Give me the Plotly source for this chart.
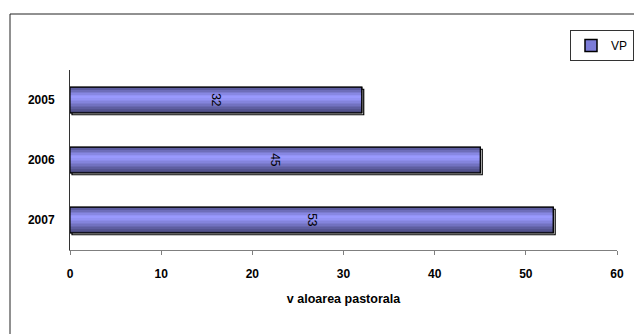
import plotly.graph_objects as go

# Data
years = ["2005", "2006", "2007"]
vp_values = [32, 45, 53]
series_name = "VP"
x_title = "v aloarea pastorala"
x_ticks = [0, 10, 20, 30, 40, 50, 60]

FONT = "Liberation Sans, Arial, sans-serif"
BAR_W = 0.425          # bar thickness in category units
PX_PER_CAT = 60.0      # plot height 180 px / 3 categories
PX_PER_UNIT = 547 / 60.0

fig = go.Figure()

# shadow behind each bar: offset a couple of pixels right and down
fig.add_trace(go.Bar(
    y=years, x=vp_values, orientation="h",
    base=2 / PX_PER_UNIT,
    width=BAR_W, offset=-BAR_W / 2 + 2 / PX_PER_CAT,
    marker=dict(color="white", line=dict(color="black", width=1.2)),
    showlegend=False, hoverinfo="skip",
))

# base bar (also provides the legend swatch)
fig.add_trace(go.Bar(
    y=years, x=vp_values, orientation="h", name=series_name,
    width=BAR_W, offset=-BAR_W / 2,
    marker=dict(color="#7c7cd8", line=dict(color="black", width=1.5)),
    showlegend=True,
))

# vertical shading: dark top, light band slightly above centre, dark bottom
def lerp(c1, c2, t):
    return "#%02x%02x%02x" % tuple(int(round(a + (b - a) * t)) for a, b in zip(c1, c2))

dark_top = (0x38, 0x38, 0x68)
light = (0x9a, 0x9a, 0xff)
dark_bot = (0x42, 0x42, 0x74)
n = 16
peak = 0.38
stripe = BAR_W / n
for i in range(n):
    t = (i + 0.5) / n
    if t < peak:
        col = lerp(dark_top, light, (t / peak) ** 0.7)
    else:
        col = lerp(light, dark_bot, ((t - peak) / (1 - peak)) ** 1.3)
    fig.add_trace(go.Bar(
        y=years, x=vp_values, orientation="h",
        width=stripe * 1.05, offset=-BAR_W / 2 + i * stripe,
        marker=dict(color=col, line=dict(width=0)),
        showlegend=False, hoverinfo="skip",
    ))

# outline and rotated value labels on top
fig.add_trace(go.Bar(
    y=years, x=vp_values, orientation="h",
    width=BAR_W, offset=-BAR_W / 2,
    marker=dict(color="rgba(0,0,0,0)", line=dict(color="black", width=1.2)),
    text=[str(v) for v in vp_values], textposition="inside",
    insidetextanchor="middle", textangle=90,
    textfont=dict(family=FONT, size=12, color="black"),
    showlegend=False, hoverinfo="skip",
))

fig.update_layout(
    width=634, height=334,
    margin=dict(l=70, r=17, t=70, b=84, autoexpand=False),
    paper_bgcolor="white", plot_bgcolor="white",
    barmode="overlay",
    font=dict(family=FONT, size=12, color="black"),
    legend=dict(
        xref="container", yref="container",
        x=636 / 634, y=1 - 30 / 334, xanchor="right", yanchor="top",
        bgcolor="white", bordercolor="#333333", borderwidth=1,
        font=dict(family=FONT, size=12, color="black"),
        itemwidth=30, tracegroupgap=0,
    ),
    xaxis=dict(
        range=[0, 60], tickvals=x_ticks, ticktext=[str(t) for t in x_ticks],
        showgrid=False, zeroline=False,
        showline=True, linecolor="#7f7f7f", linewidth=1,
        ticks="outside", ticklen=4, tickcolor="#7f7f7f",
        tickfont=dict(family=FONT, size=12, color="black", weight="bold"),
        ticklabelstandoff=9,
        title=dict(text=x_title, standoff=13,
                   font=dict(family=FONT, size=12.5, color="black", weight="bold")),
    ),
    yaxis=dict(
        categoryorder="array", categoryarray=years, autorange="reversed",
        showgrid=False, zeroline=False,
        showline=True, linecolor="#333333", linewidth=1,
        ticks="",
        tickfont=dict(family=FONT, size=12, color="black", weight="bold"),
        ticklabelstandoff=12,
    ),
    shapes=[dict(
        type="rect", xref="paper", yref="paper",
        x0=(10 - 70) / 547, x1=1.2, y0=-0.8, y1=(250 - 14) / 180,
        line=dict(color="#222222", width=1), fillcolor="rgba(0,0,0,0)",
        layer="below",
    )],
)

fig.write_html("out.html")
